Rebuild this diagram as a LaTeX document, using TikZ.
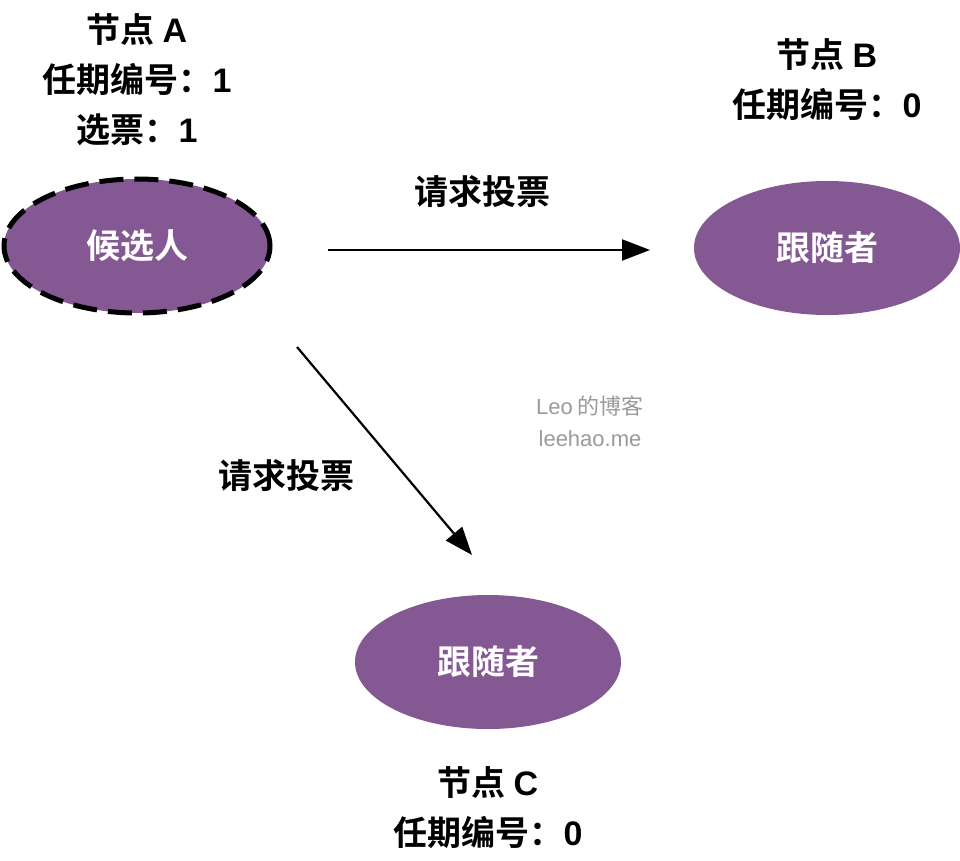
\documentclass[tikz,border=0pt]{standalone}
\usepackage{fontspec}
\setmainfont{Noto Sans CJK SC}
\newfontfamily\cjkb{Noto Sans CJK SC Bold}
\newfontfamily\latbold{Liberation Sans Bold}
\newfontfamily\latr{Liberation Sans}
\newcommand{\LB}[1]{{\latbold #1}}
\newcommand{\LR}[1]{{\latr #1}}
\usetikzlibrary{arrows.meta,shapes.geometric}
\definecolor{nodepurple}{HTML}{845893}
\definecolor{wmgray}{HTML}{9A9A9A}
\begin{document}
\begin{tikzpicture}[x=1pt,y=-1pt,
  roleell/.style={ellipse,fill=nodepurple,minimum width=266pt,minimum height=134pt,inner sep=0pt,
    font=\cjkb\fontsize{34}{38}\selectfont,text=white},
  infotext/.style={align=center,font=\cjkb\fontsize{34}{50}\selectfont,text=black,inner sep=0pt},
  edgelabel/.style={font=\cjkb\fontsize{34}{38}\selectfont,inner sep=0pt},
  msg/.style={line width=2.2pt,-{Triangle[length=28pt,width=21pt]}}]
\useasboundingbox (0,0) rectangle (960,861);
\node[roleell,draw=black,line width=5pt,dash pattern=on 24pt off 11pt] (cand) at (137,246) {候选人};
\node[roleell] (folB) at (827,248) {跟随者};
\node[roleell] (folC) at (488,662) {跟随者};
\node[infotext,anchor=center] (infoA) at (137,80) {节点 \LB{A}\\任期编号：\LB{1}\\选票：\LB{1}};
\node[infotext] (infoB) at (827,80) {节点 \LB{B}\\任期编号：\LB{0}};
\node[infotext] (infoC) at (488,808) {节点 \LB{C}\\任期编号：\LB{0}};
\coordinate (a1s) at (328,250);
\coordinate (a1e) at (650,250);
\coordinate (a2s) at (297,347);
\coordinate (a2e) at (472,555);
\draw[msg] (a1s) -- (a1e);
\draw[msg] (a2s) -- (a2e);
\node[edgelabel] (lab1) at (482,192) {请求投票};
\node[edgelabel] (lab2) at (286,476) {请求投票};
\node[font=\fontsize{22}{32}\selectfont,text=wmgray,align=center,inner sep=0pt] (wm) at (590,421) {\LR{Leo} 的博客\\\LR{leehao.me}};
\end{tikzpicture}
\end{document}
